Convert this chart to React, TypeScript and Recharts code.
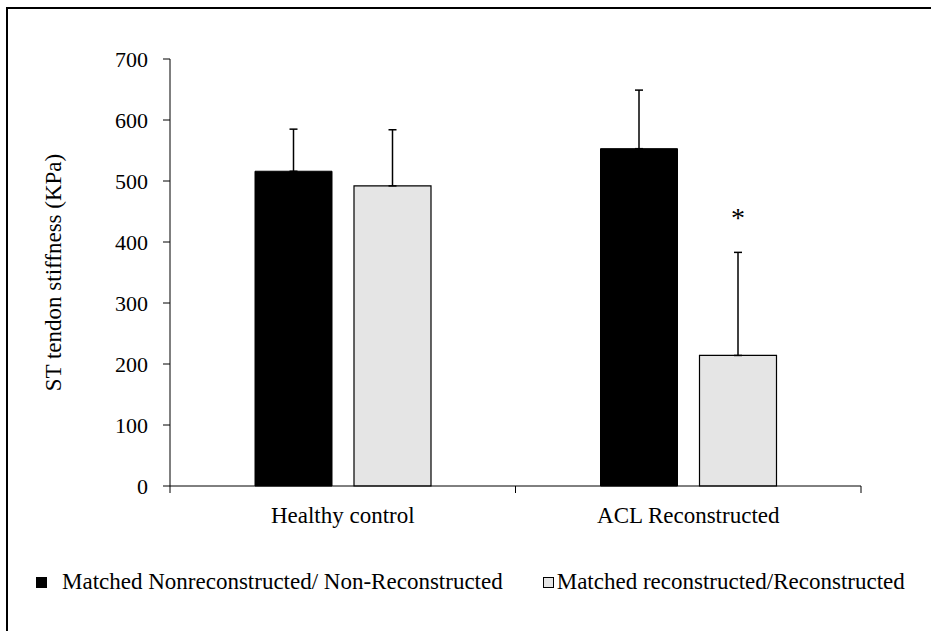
import React from 'react';
import { BarChart, Bar, XAxis, YAxis, ErrorBar } from 'recharts';

const categories = ['Healthy control', 'ACL Reconstructed'];
const nonReconMean = [516, 553];
const nonReconSd = [69, 96];
const reconMean = [492, 214];
const reconSd = [92, 169];
const significance = ['', '*'];
const yTicks = [0, 100, 200, 300, 400, 500, 600, 700];

const seriesNames = [
  'Matched Nonreconstructed/ Non-Reconstructed',
  'Matched reconstructed/Reconstructed',
];

const FONT = '"Liberation Serif", "Times New Roman", serif';

const data = categories.map((name, i) => ({
  name,
  nonRecon: nonReconMean[i],
  nonReconErr: [0, nonReconSd[i]],
  recon: reconMean[i],
  reconErr: [0, reconSd[i]],
}));

const CHART_W = 931;
const CHART_H = 631;
const MARGIN = { top: 59, right: 70, bottom: 115, left: 0 };
const Y_AXIS_W = 170;
const PLOT_W = CHART_W - MARGIN.left - MARGIN.right - Y_AXIS_W;

// category label at the band centre, tick marks on the band edges
const CategoryTick = (props: any) => {
  const { x, y, payload, index } = props;
  const band = PLOT_W / categories.length;
  const axisY = y - 9;
  const left = x - band / 2;
  const right = x + band / 2;
  return (
    <g>
      <line x1={left} y1={axisY} x2={left} y2={axisY + 7} stroke="#000" strokeWidth={1} />
      {index === categories.length - 1 && (
        <line x1={right} y1={axisY} x2={right} y2={axisY + 7} stroke="#000" strokeWidth={1} />
      )}
      <text x={x} y={axisY + 37} textAnchor="middle" fill="#000" fontSize={23} fontFamily={FONT}>
        {payload.value}
      </text>
    </g>
  );
};

const YLabel = (props: any) => {
  const { viewBox } = props;
  const cx = viewBox.x + 53;
  const cy = viewBox.y + viewBox.height / 2;
  return (
    <text
      x={cx}
      y={cy}
      transform={`rotate(-90 ${cx} ${cy})`}
      textAnchor="middle"
      dominantBaseline="central"
      fill="#000"
      fontSize={23}
      fontFamily={FONT}
    >
      ST tendon stiffness (KPa)
    </text>
  );
};

// asterisk above the error bar of the reconstructed series
const StarLabel = (props: any) => {
  const { x, y, width, height, value, index } = props;
  const mark = significance[index];
  if (!mark || !value) return null;
  const pxPerUnit = height / value;
  const errTop = y - reconSd[index] * pxPerUnit;
  return (
    <text x={x + width / 2} y={errTop - 25} textAnchor="middle" fill="#000" fontSize={28} fontFamily={FONT}>
      {mark}
    </text>
  );
};

export default function App() {
  return (
    <div style={{ position: 'absolute', left: 0, top: 0, width: CHART_W, height: CHART_H, background: '#fff', overflow: 'hidden' }}>
      <div
        style={{
          position: 'absolute',
          left: 6,
          top: 7,
          width: 1000,
          height: 1000,
          borderLeft: '2px solid #000',
          borderTop: '2px solid #000',
        }}
      />
      <div style={{ position: 'absolute', left: 0, top: 0 }}>
        <BarChart width={CHART_W} height={CHART_H} data={data} margin={MARGIN} barSize={77} barGap={22}>
          <XAxis
            dataKey="name"
            axisLine={{ stroke: '#000', strokeWidth: 1 }}
            tickLine={false}
            tickSize={7}
            tickMargin={2}
            tick={<CategoryTick />}
            interval={0}
          />
          <YAxis
            width={Y_AXIS_W}
            domain={[0, 700]}
            ticks={yTicks}
            interval={0}
            axisLine={{ stroke: '#000', strokeWidth: 1 }}
            tickLine={{ stroke: '#000', strokeWidth: 1 }}
            tickSize={7}
            tickMargin={15}
            tick={{ fill: '#000', fontSize: 22, fontFamily: FONT }}
            label={<YLabel />}
          />
          <Bar dataKey="nonRecon" name={seriesNames[0]} fill="#000" stroke="#000" strokeWidth={1} isAnimationActive={false}>
            <ErrorBar dataKey="nonReconErr" direction="y" width={4} stroke="#000" strokeWidth={1.5} />
          </Bar>
          <Bar
            dataKey="recon"
            name={seriesNames[1]}
            fill="#e5e5e5"
            stroke="#000"
            strokeWidth={1.2}
            isAnimationActive={false}
            label={<StarLabel />}
          >
            <ErrorBar dataKey="reconErr" direction="y" width={4} stroke="#000" strokeWidth={1.5} />
          </Bar>
        </BarChart>
      </div>
      <div
        style={{
          position: 'absolute',
          left: 36,
          top: 569,
          display: 'flex',
          alignItems: 'center',
          fontFamily: FONT,
          fontSize: 23,
          color: '#000',
          whiteSpace: 'nowrap',
        }}
      >
        <span style={{ display: 'inline-block', width: 11, height: 11, background: '#000', marginRight: 15 }} />
        <span>{seriesNames[0]}</span>
        <span
          style={{
            display: 'inline-block',
            width: 9,
            height: 9,
            background: '#e5e5e5',
            border: '1px solid #000',
            marginLeft: 40,
            marginRight: 3,
          }}
        />
        <span>{seriesNames[1]}</span>
      </div>
    </div>
  );
}
